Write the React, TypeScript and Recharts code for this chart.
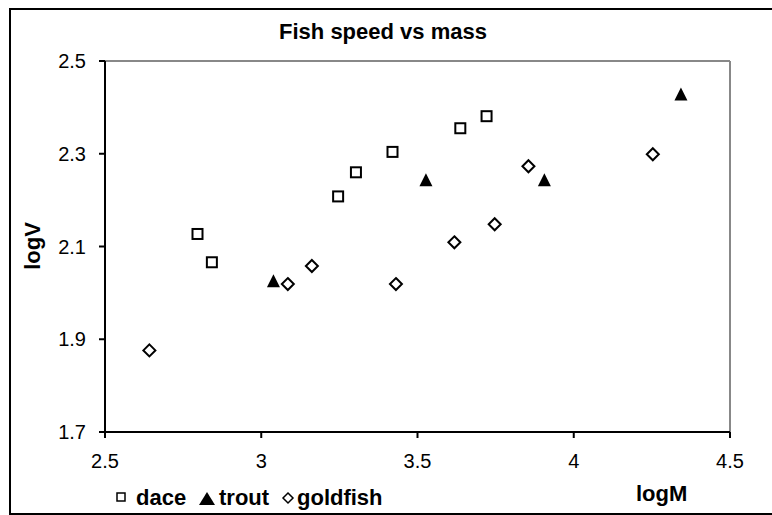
import {
  ScatterChart,
  Scatter,
  XAxis,
  YAxis,
  ReferenceLine,
} from 'recharts'

// values
const daceLogM = [2.796, 2.842, 3.246, 3.303, 3.42, 3.637, 3.721]
const daceLogV = [2.127, 2.066, 2.208, 2.26, 2.304, 2.355, 2.381]

const troutLogM = [3.039, 3.527, 3.906, 4.343]
const troutLogV = [2.025, 2.243, 2.243, 2.428]

const goldfishLogM = [2.642, 3.085, 3.162, 3.431, 3.618, 3.747, 3.855, 4.253]
const goldfishLogV = [1.876, 2.019, 2.058, 2.019, 2.109, 2.148, 2.273, 2.299]

const xTicks = [2.5, 3, 3.5, 4, 4.5]
const yTicks = [1.7, 1.9, 2.1, 2.3, 2.5]

const FONT = '"Liberation Sans", Arial, sans-serif'

function toPoints(xs: number[], ys: number[]) {
  return xs.map((x, i) => ({ x, y: ys[i] }))
}

const SquareMark = (p: any) => (
  <rect
    x={p.cx - 5}
    y={p.cy - 5}
    width={10}
    height={10}
    fill="#fff"
    stroke="#000"
    strokeWidth={2}
  />
)

const TriangleMark = (p: any) => (
  <path
    d={`M${p.cx},${p.cy - 7} L${p.cx + 6.5},${p.cy + 6} L${p.cx - 6.5},${p.cy + 6} Z`}
    fill="#000"
  />
)

const DiamondMark = (p: any) => (
  <path
    d={`M${p.cx},${p.cy - 6} L${p.cx + 6},${p.cy} L${p.cx},${p.cy + 6} L${p.cx - 6},${p.cy} Z`}
    fill="#fff"
    stroke="#000"
    strokeWidth={2}
  />
)

export default function App() {
  const tick = { fill: '#000', fontSize: 20, fontFamily: FONT }
  const bold = { fontFamily: FONT, fontSize: 22, fontWeight: 700, fill: '#000' }
  return (
    <div
      style={{
        position: 'fixed',
        left: 0,
        top: 0,
        width: 772,
        height: 515,
        background: '#fff',
        overflow: 'hidden',
      }}
    >
      <div
        style={{
          position: 'absolute',
          left: 9,
          top: 8,
          width: 800,
          height: 507,
          boxSizing: 'border-box',
          border: '2px solid #000',
        }}
      />
      <ScatterChart
        width={772}
        height={515}
        margin={{ top: 61, right: 42, left: 0, bottom: 43 }}
        style={{ position: 'absolute', left: 0, top: 0 }}
      >
        <XAxis
          type="number"
          dataKey="x"
          domain={[2.5, 4.5]}
          ticks={xTicks}
          height={40}
          tick={tick}
          tickSize={6}
          tickMargin={16}
          axisLine={{ stroke: '#000', strokeWidth: 2 }}
          tickLine={{ stroke: '#000', strokeWidth: 2 }}
          allowDataOverflow
        />
        <YAxis
          type="number"
          dataKey="y"
          domain={[1.7, 2.5]}
          ticks={yTicks}
          width={105}
          tick={tick}
          tickSize={6}
          tickMargin={13}
          tickFormatter={(v: number) => v.toFixed(1)}
          axisLine={{ stroke: '#000', strokeWidth: 2 }}
          tickLine={{ stroke: '#000', strokeWidth: 2 }}
          allowDataOverflow
        />
        <ReferenceLine y={2.5} stroke="#888" strokeWidth={2} />
        <ReferenceLine x={4.5} stroke="#888" strokeWidth={2} />
        <Scatter
          name="dace"
          data={toPoints(daceLogM, daceLogV)}
          shape={SquareMark}
          isAnimationActive={false}
        />
        <Scatter
          name="trout"
          data={toPoints(troutLogM, troutLogV)}
          shape={TriangleMark}
          isAnimationActive={false}
        />
        <Scatter
          name="goldfish"
          data={toPoints(goldfishLogM, goldfishLogV)}
          shape={DiamondMark}
          isAnimationActive={false}
        />
      </ScatterChart>
      <svg
        width={772}
        height={515}
        style={{ position: 'absolute', left: 0, top: 0, pointerEvents: 'none' }}
      >
        <text x={383} y={39} textAnchor="middle" {...bold}>
          Fish speed vs mass
        </text>
        <text
          x={40}
          y={246}
          textAnchor="middle"
          transform="rotate(-90 40 246)"
          {...bold}
        >
          logV
        </text>
        <text x={636} y={501} {...bold}>
          logM
        </text>
        {/* legend */}
        <rect x={117} y={493} width={8} height={8} fill="#fff" stroke="#000" strokeWidth={1.5} />
        <text x={136} y={505} {...bold}>dace</text>
        <path d="M207,492 L215,505 L199,505 Z" fill="#000" />
        <text x={219} y={505} {...bold}>trout</text>
        <path d="M288,493 L293,498 L288,503 L283,498 Z" fill="#fff" stroke="#000" strokeWidth={1.5} />
        <text x={297} y={505} {...bold}>goldfish</text>
      </svg>
    </div>
  )
}
